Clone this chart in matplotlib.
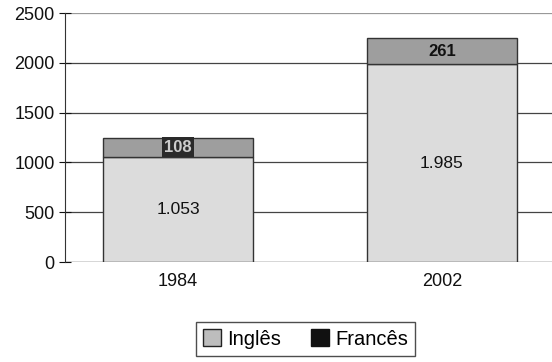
import matplotlib
matplotlib.use("Agg")
import matplotlib.pyplot as plt
import numpy as np
from matplotlib.patches import Patch

plt.rcParams['font.family'] = ['Liberation Sans', 'DejaVu Sans']

# data
anos = ["1984", "2002"]
ingles = [1053, 1985]
frances = [195, 261]
rotulos_ingles = ["1.053", "1.985"]
rotulos_frances = ["108", "261"]
yticks = [0, 500, 1000, 1500, 2000, 2500]

fig = plt.figure(figsize=(5.52, 3.62), dpi=100)
ax = fig.add_axes([0.1178, 0.2762, 0.8822, 0.6878])

x = np.arange(len(anos))
w = 0.568

# gridlines (the top one is faded in the scan)
for v in yticks[1:]:
    cor = "#999999" if v == yticks[-1] else "#444444"
    ax.axhline(v, color=cor, lw=0.9, zorder=0)

ax.bar(x, ingles, w, color="#dcdcdc", edgecolor="#333333", lw=1.0,
       label="Inglês", zorder=2)
ax.bar(x, frances, w, bottom=ingles, color="#9e9e9e", edgecolor="#333333",
       lw=1.0, label="Francês", zorder=2)

for i in range(len(anos)):
    ax.text(x[i], ingles[i] / 2, rotulos_ingles[i], ha="center", va="center",
            fontsize=12.5, color="#111111", zorder=3)
    yf = ingles[i] + frances[i] / 2
    if i == 0:
        ax.text(x[i], yf, rotulos_frances[i], ha="center", va="center",
                fontsize=12, fontweight="bold", color="#cccccc", zorder=3,
                bbox=dict(boxstyle="square,pad=0.15", fc="#2a2a2a", ec="none"))
    else:
        ax.text(x[i], yf, rotulos_frances[i], ha="center", va="center",
                fontsize=12, fontweight="bold", color="#111111", zorder=3)

ax.set_xlim(-0.428, 1.417)
ax.set_ylim(0, 2500)
ax.set_yticks(yticks)
ax.set_xticks(x)
ax.set_xticklabels(anos)
for s in ["top", "right", "bottom"]:
    ax.spines[s].set_visible(False)
ax.spines["left"].set_color("#333333")
ax.axhline(0, color="#333333", lw=1.0, zorder=1)
ax.tick_params(axis="y", direction="inout", length=8, labelsize=13, colors="#111111")
ax.tick_params(axis="x", length=0, labelsize=13, pad=8, colors="#111111")

# legend, Francês shown as a black square like the original
handles = [Patch(facecolor="#bdbdbd", edgecolor="#222222", label="Inglês"),
           Patch(facecolor="#111111", edgecolor="#111111", label="Francês")]
leg = fig.legend(handles=handles, loc="center", bbox_to_anchor=(0.5535, 0.0635),
                 ncol=2, fontsize=14.5, frameon=True, fancybox=False,
                 edgecolor="#222222", handlelength=0.9, handleheight=0.9,
                 handletextpad=0.3, columnspacing=1.5, borderpad=0.35)
leg.get_frame().set_linewidth(1.0)

fig.savefig("out.png", dpi=100)
